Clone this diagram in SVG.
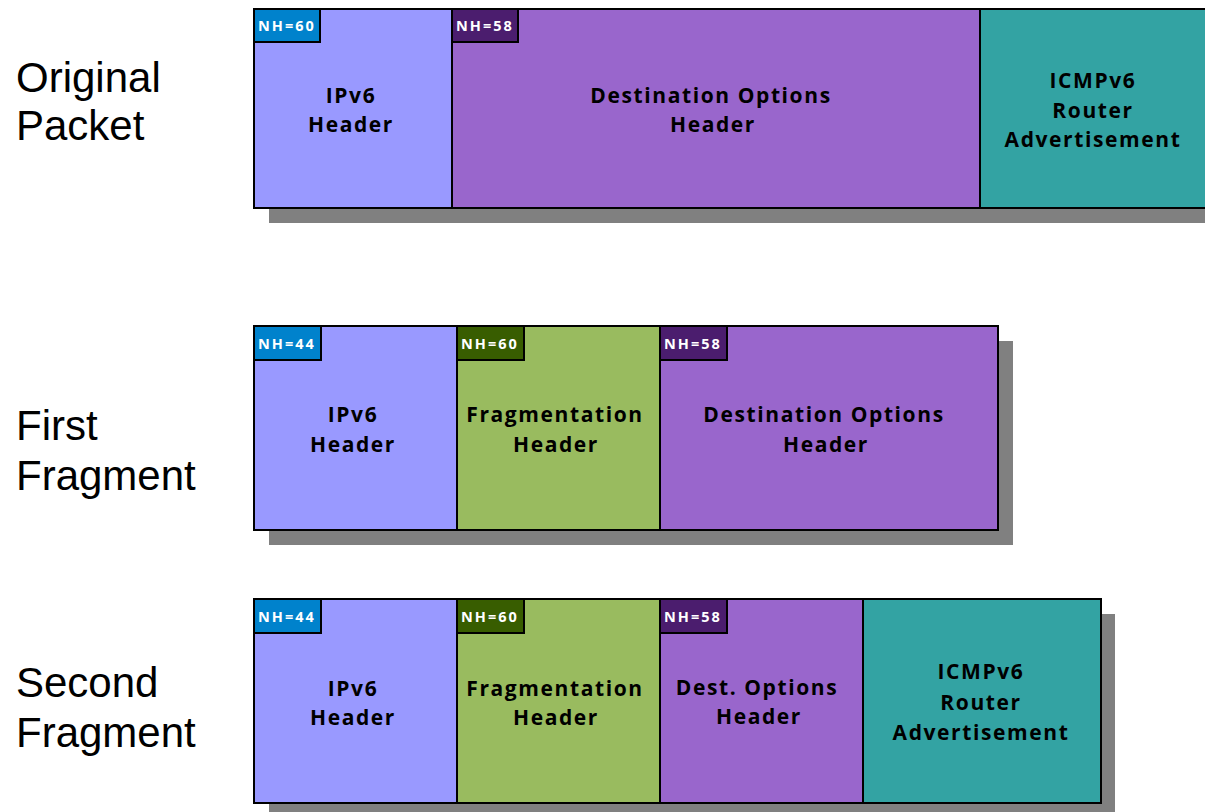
<svg xmlns="http://www.w3.org/2000/svg" width="1205" height="812" viewBox="0 0 1205 812">
<style>
.shadow{fill:#808080}
.box{stroke:#000;stroke-width:2}
.ip{fill:#9999FF}
.dest{fill:#9966CC}
.icmp{fill:#33A3A3}
.frag{fill:#99BB5F}
.tag{stroke:#000;stroke-width:2}
.t60{fill:#0082CC}
.t58{fill:#4B1D6E}
.tg{fill:#385D00}
.lbl{font-family:"Open Sans","Liberation Sans",sans-serif;font-weight:bold;font-size:21px;letter-spacing:1.6px;fill:#000;text-anchor:middle}
.nh{font-family:"Open Sans","Liberation Sans",sans-serif;font-weight:bold;font-size:14.5px;letter-spacing:2px;fill:#fff}
.side{font-family:"Liberation Sans",Arial,sans-serif;font-size:42px;fill:#000}
</style>

<g id="side-labels">
<text class="side" x="16" y="92">Original</text>
<text class="side" x="16" y="140">Packet</text>
<text class="side" x="16" y="440">First</text>
<text class="side" x="16" y="490">Fragment</text>
<text class="side" x="16" y="697">Second</text>
<text class="side" x="16" y="747">Fragment</text>
</g>

<g id="shadows">
<rect class="shadow" x="269" y="24" width="950" height="199"/>
<rect class="shadow" x="269" y="341" width="744" height="204"/>
<rect class="shadow" x="269" y="614" width="846" height="204"/>
</g>

<g id="row1">
<g id="r1-ipv6">
<rect class="box ip" x="254" y="9" width="198" height="199"/>
<rect class="tag t60" x="254" y="9" width="66" height="33"/>
<text class="nh" x="258" y="31">NH=60</text>
<text class="lbl" x="351" y="103">IPv6</text>
<text class="lbl" x="351" y="132">Header</text>
</g>
<g id="r1-dest">
<rect class="box dest" x="452" y="9" width="528" height="199"/>
<rect class="tag t58" x="452" y="9" width="66" height="33"/>
<text class="nh" x="456" y="31">NH=58</text>
<text class="lbl" x="711" y="103">Destination Options</text>
<text class="lbl" x="713" y="132">Header</text>
</g>
<g id="r1-icmp">
<rect class="box icmp" x="980" y="9" width="240" height="199"/>
<text class="lbl" x="1093" y="88">ICMPv6</text>
<text class="lbl" x="1093" y="118">Router</text>
<text class="lbl" x="1093" y="147">Advertisement</text>
</g>
</g>

<g id="row2">
<g id="r2-ipv6">
<rect class="box ip" x="254" y="326" width="203" height="204"/>
<rect class="tag t60" x="254" y="326" width="67" height="34"/>
<text class="nh" x="258" y="349">NH=44</text>
<text class="lbl" x="353" y="422">IPv6</text>
<text class="lbl" x="353" y="452">Header</text>
</g>
<g id="r2-frag">
<rect class="box frag" x="457" y="326" width="203" height="204"/>
<rect class="tag tg" x="457" y="326" width="67" height="34"/>
<text class="nh" x="461" y="349">NH=60</text>
<text class="lbl" x="555" y="422">Fragmentation</text>
<text class="lbl" x="556" y="452">Header</text>
</g>
<g id="r2-dest">
<rect class="box dest" x="660" y="326" width="338" height="204"/>
<rect class="tag t58" x="660" y="326" width="67" height="34"/>
<text class="nh" x="664" y="349">NH=58</text>
<text class="lbl" x="824" y="422">Destination Options</text>
<text class="lbl" x="826" y="452">Header</text>
</g>
</g>

<g id="row3">
<g id="r3-ipv6">
<rect class="box ip" x="254" y="599" width="203" height="204"/>
<rect class="tag t60" x="254" y="599" width="67" height="34"/>
<text class="nh" x="258" y="622">NH=44</text>
<text class="lbl" x="353" y="696">IPv6</text>
<text class="lbl" x="353" y="725">Header</text>
</g>
<g id="r3-frag">
<rect class="box frag" x="457" y="599" width="203" height="204"/>
<rect class="tag tg" x="457" y="599" width="67" height="34"/>
<text class="nh" x="461" y="622">NH=60</text>
<text class="lbl" x="555" y="696">Fragmentation</text>
<text class="lbl" x="556" y="725">Header</text>
</g>
<g id="r3-dest">
<rect class="box dest" x="660" y="599" width="203" height="204"/>
<rect class="tag t58" x="660" y="599" width="67" height="34"/>
<text class="nh" x="664" y="622">NH=58</text>
<text class="lbl" x="757" y="695">Dest. Options</text>
<text class="lbl" x="759" y="724">Header</text>
</g>
<g id="r3-icmp">
<rect class="box icmp" x="863" y="599" width="238" height="204"/>
<text class="lbl" x="981" y="679">ICMPv6</text>
<text class="lbl" x="981" y="710">Router</text>
<text class="lbl" x="981" y="740">Advertisement</text>
</g>
</g>
</svg>
